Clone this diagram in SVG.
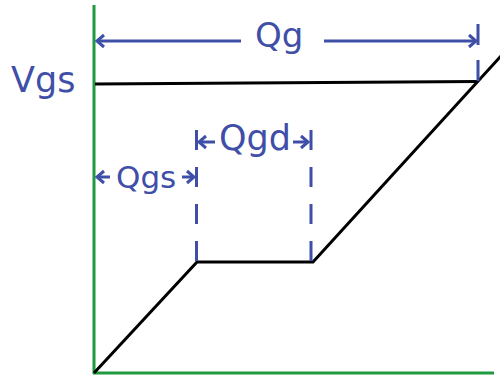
<svg xmlns="http://www.w3.org/2000/svg" width="500" height="376" viewBox="0 0 500 376">
<style>
.lbl{font-family:"DejaVu Sans","Verdana",sans-serif;fill:#3F4FA8}
.dim{stroke:#3F4FA8;stroke-width:3;fill:none;marker-end:url(#ah)}
.dash{stroke:#3F4FA8;stroke-width:3;fill:none;stroke-dasharray:20 17}
.axis{stroke:#1F9A3E;stroke-width:3;fill:none}
.curve{stroke:#000;stroke-width:3;fill:none;stroke-linejoin:miter}
</style>
<defs>
<marker id="ah" markerUnits="userSpaceOnUse" markerWidth="14" markerHeight="16" viewBox="-9 -8 11 16" refX="0" refY="0" orient="auto">
<path d="M-7,-6 L0,0 L-7,6" fill="none" stroke="#3F4FA8" stroke-width="3"/>
</marker>
</defs>
<rect width="500" height="376" fill="#fff"/>
<g id="axes">
<line class="axis" x1="94" y1="5" x2="94" y2="374"/>
<line class="axis" x1="93" y1="373" x2="494" y2="373"/>
</g>
<g id="curves">
<line class="curve" x1="95" y1="84" x2="478" y2="81.5"/>
<polyline class="curve" points="94,373 197,262 313,262 501,56"/>
</g>
<g id="connectors">
<line class="dim" x1="241" y1="41" x2="97" y2="41"/>
<line class="dim" x1="324" y1="41" x2="476" y2="41"/>
<line class="dash" x1="478" y1="24" x2="478" y2="82" style="stroke-dasharray:21 15"/>
<line class="dim" x1="110" y1="177" x2="97" y2="177"/>
<line class="dim" x1="182" y1="177" x2="194" y2="177"/>
<line class="dim" x1="215" y1="142" x2="199" y2="142"/>
<line class="dim" x1="293" y1="142" x2="308" y2="142"/>
<line class="dash" x1="196.5" y1="130" x2="196.5" y2="262"/>
<line class="dash" x1="311" y1="130" x2="311" y2="262"/>
</g>
<g id="label-vgs"><text class="lbl" x="11" y="92" font-size="35">Vgs</text></g>
<g id="label-qg"><text class="lbl" x="255" y="47" font-size="34">Qg</text></g>
<g id="label-qgs"><text class="lbl" x="116" y="188" font-size="31">Qgs</text></g>
<g id="label-qgd"><text class="lbl" x="219" y="150" font-size="35">Qgd</text></g>
</svg>
